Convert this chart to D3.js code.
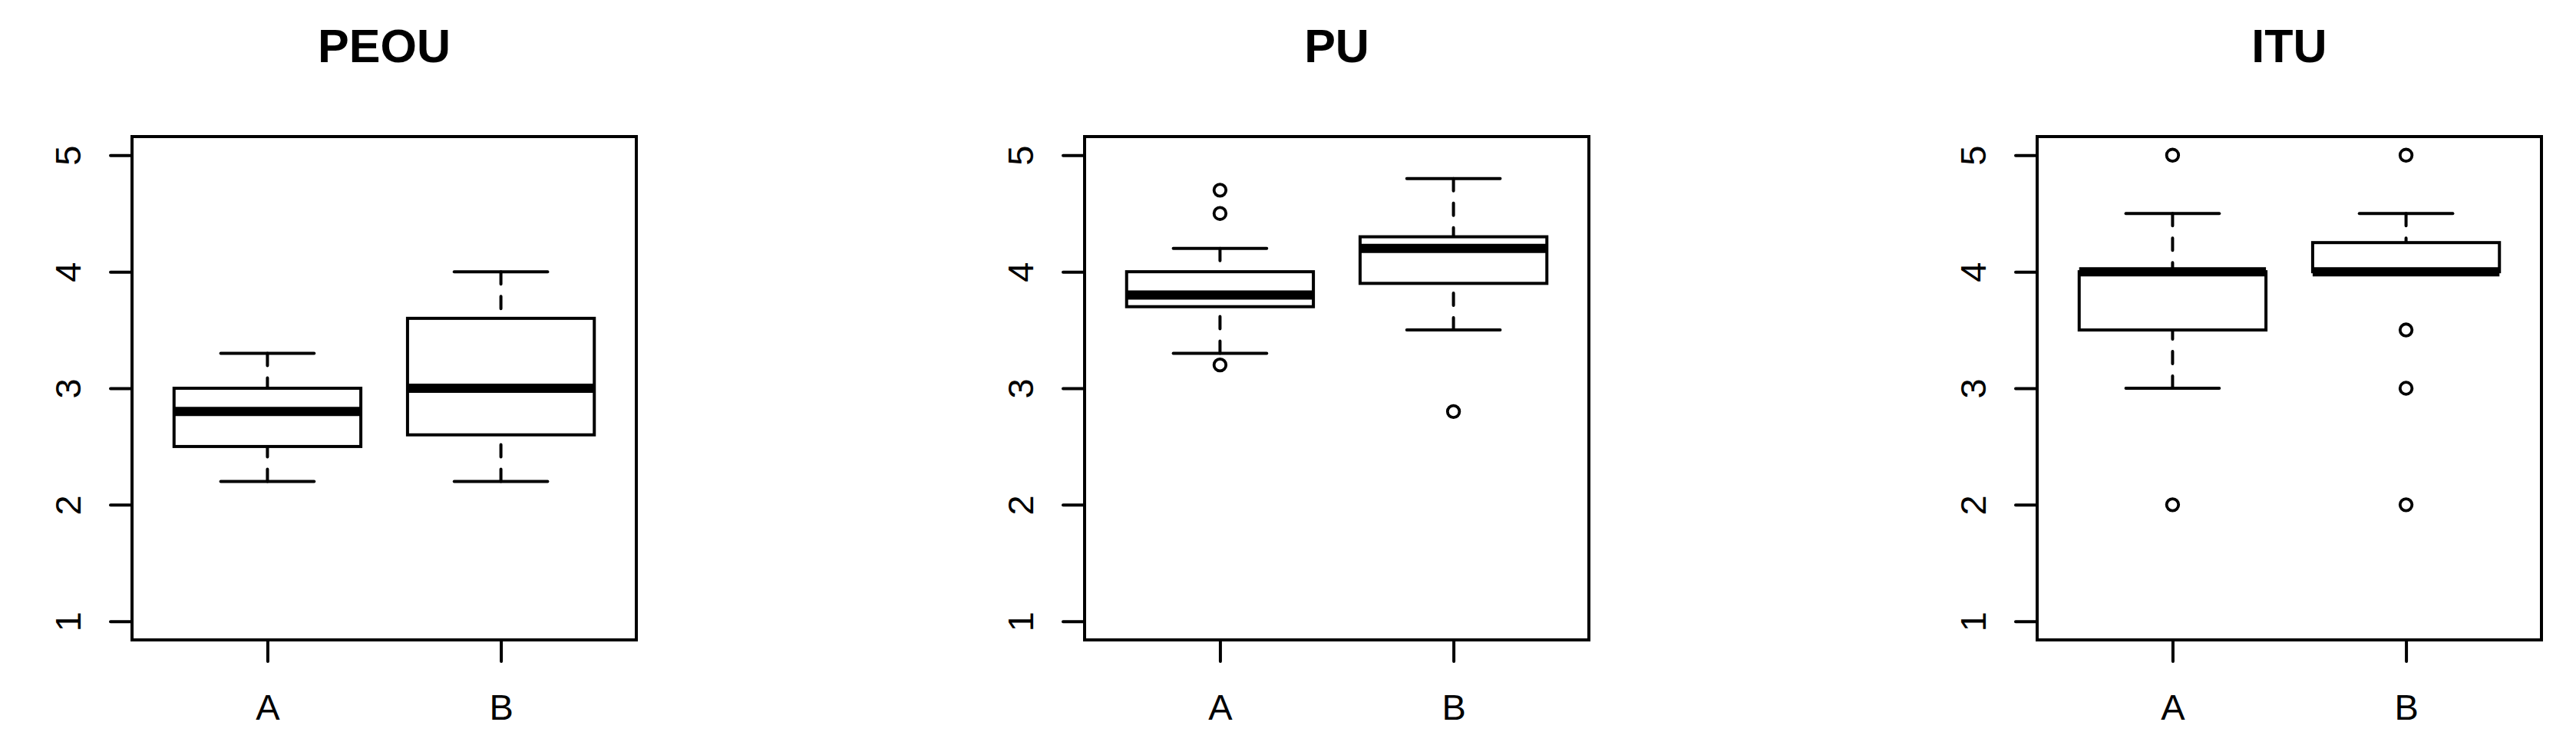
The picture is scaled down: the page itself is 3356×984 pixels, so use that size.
<!DOCTYPE html>
<html>
<head>
<meta charset="utf-8">
<script src="https://cdn.jsdelivr.net/npm/d3@7"></script>
<style>
  html, body { margin: 0; padding: 0; background: #fff; }
  svg text { font-family: "Liberation Sans", Arial, Helvetica, sans-serif; fill: #000; }
</style>
</head>
<body>
<svg id="chart" width="3356" height="984"></svg>
<script>
// panel titles and the two groups
var panelTitles = ["PEOU", "PU", "ITU"];
var groups = ["A", "B"];
var yTicks = [1, 2, 3, 4, 5];

// box stats per group: [lower whisker, Q1, median, Q3, upper whisker]
var peouStats = [[2.2, 2.5, 2.8, 3.0, 3.3], [2.2, 2.6, 3.0, 3.6, 4.0]];
var puStats = [[3.3, 3.7, 3.8, 4.0, 4.2], [3.5, 3.9, 4.2, 4.3, 4.8]];
var ituStats = [[3.0, 3.5, 4.0, 4.0, 4.5], [4.0, 4.0, 4.0, 4.25, 4.5]];

// outliers per group
var peouOut = [[], []];
var puOut = [[4.7, 4.5, 3.2], [2.8]];
var ituOut = [[5, 2], [5, 3.5, 3, 2]];

var panelStats = [peouStats, puStats, ituStats];
var panelOut = [peouOut, puOut, ituOut];

var svg = d3.select("#chart");

var frameW = 657,
  frameH = 656,
  frameTop = 178,
  firstLeft = 172,
  panelStep = 1241;

var lw = 4; // base line width

// R style: ylim 1..5 and xlim 0.5..2.5 padded by 4%
var yScale = d3.scaleLinear().domain([0.84, 5.16]).range([frameH, 0]);
var xScale = d3.scaleLinear().domain([0.42, 2.58]).range([0, frameW]);

panelTitles.forEach(function (title, p) {
  var g = svg
    .append("g")
    .attr("transform", "translate(" + (firstLeft + p * panelStep) + "," + frameTop + ")");

  // title
  g.append("text")
    .attr("x", frameW / 2)
    .attr("y", 81 - frameTop)
    .attr("text-anchor", "middle")
    .style("font-size", "61px")
    .style("font-weight", "bold")
    .text(title);

  // y axis (labels rotated like R's las=0)
  var yAxis = g.append("g").call(
    d3.axisLeft(yScale).tickValues(yTicks).tickSize(28).tickFormat(d3.format("d"))
  );
  yAxis.select(".domain").remove();
  yAxis.selectAll(".tick line")
    .attr("stroke", "#000")
    .attr("stroke-width", lw)
    .attr("stroke-linecap", "round");
  yAxis.selectAll(".tick text")
    .attr("transform", "rotate(-90)")
    .attr("x", 0)
    .attr("y", -67)
    .attr("dy", 0)
    .attr("text-anchor", "middle")
    .style("font-size", "47px")
    .style("font-family", '"Liberation Sans", Arial, sans-serif');

  // x axis
  var xAxis = g.append("g")
    .attr("transform", "translate(0," + frameH + ")")
    .call(
      d3.axisBottom(xScale).tickValues([1, 2]).tickSize(28).tickFormat(function (d) {
        return groups[d - 1];
      })
    );
  xAxis.select(".domain").remove();
  xAxis.selectAll(".tick line")
    .attr("stroke", "#000")
    .attr("stroke-width", lw)
    .attr("stroke-linecap", "round");
  xAxis.selectAll(".tick text")
    .attr("y", 104)
    .attr("dy", 0)
    .style("font-size", "47px")
    .style("font-family", '"Liberation Sans", Arial, sans-serif');

  var halfBox = xScale(1.4) - xScale(1),
    halfStaple = xScale(1.2) - xScale(1);

  panelStats[p].forEach(function (s, i) {
    var cx = xScale(i + 1);
    var bg = g.append("g");

    // whiskers, dashed from staple toward the box
    bg.append("line")
      .attr("x1", cx).attr("x2", cx)
      .attr("y1", yScale(s[0])).attr("y2", yScale(s[1]))
      .attr("stroke", "#000").attr("stroke-width", lw)
      .attr("stroke-dasharray", "16,16").attr("stroke-linecap", "round");
    bg.append("line")
      .attr("x1", cx).attr("x2", cx)
      .attr("y1", yScale(s[4])).attr("y2", yScale(s[3]))
      .attr("stroke", "#000").attr("stroke-width", lw)
      .attr("stroke-dasharray", "16,16").attr("stroke-linecap", "round");

    // staples
    [s[0], s[4]].forEach(function (v) {
      bg.append("line")
        .attr("x1", cx - halfStaple).attr("x2", cx + halfStaple)
        .attr("y1", yScale(v)).attr("y2", yScale(v))
        .attr("stroke", "#000").attr("stroke-width", lw)
        .attr("stroke-linecap", "round");
    });

    // box
    bg.append("rect")
      .attr("x", cx - halfBox)
      .attr("y", yScale(s[3]))
      .attr("width", halfBox * 2)
      .attr("height", yScale(s[1]) - yScale(s[3]))
      .attr("fill", "#fff")
      .attr("stroke", "#000")
      .attr("stroke-width", lw);

    // median
    bg.append("line")
      .attr("x1", cx - halfBox).attr("x2", cx + halfBox)
      .attr("y1", yScale(s[2])).attr("y2", yScale(s[2]))
      .attr("stroke", "#000").attr("stroke-width", 12);

    // outliers
    bg.selectAll("circle")
      .data(panelOut[p][i])
      .enter()
      .append("circle")
      .attr("cx", cx)
      .attr("cy", function (d) { return yScale(d); })
      .attr("r", 7.8)
      .attr("fill", "none")
      .attr("stroke", "#000")
      .attr("stroke-width", 3.8);
  });

  // frame
  g.append("rect")
    .attr("x", 0).attr("y", 0)
    .attr("width", frameW).attr("height", frameH)
    .attr("fill", "none")
    .attr("stroke", "#000")
    .attr("stroke-width", lw);
});
</script>
</body>
</html>
